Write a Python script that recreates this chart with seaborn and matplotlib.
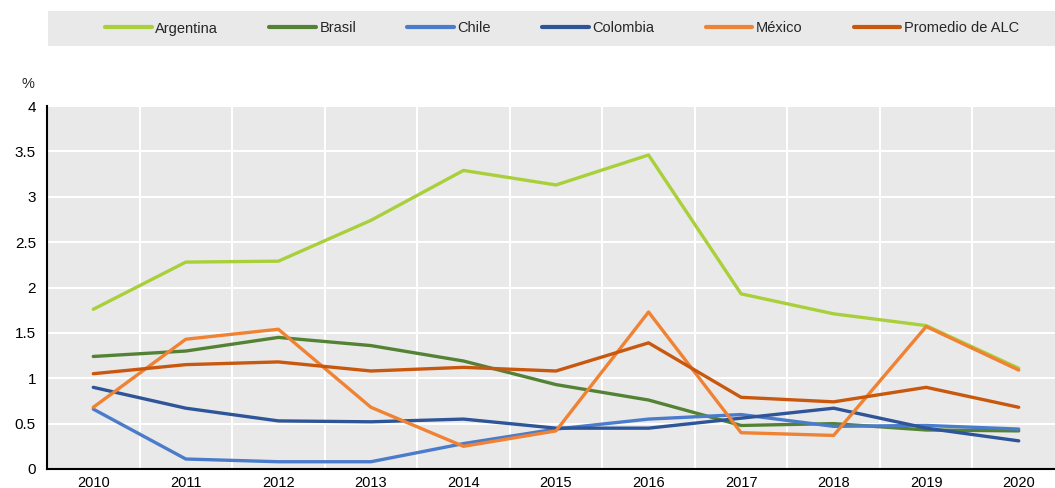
import matplotlib
matplotlib.use("Agg")
import matplotlib.pyplot as plt
from matplotlib.ticker import FixedLocator
import numpy as np
import pandas as pd
import seaborn as sns

years = ["2010", "2011", "2012", "2013", "2014", "2015", "2016", "2017", "2018", "2019", "2020"]
argentina = [1.76, 2.28, 2.29, 2.74, 3.29, 3.13, 3.46, 1.93, 1.71, 1.58, 1.11]
brasil = [1.24, 1.30, 1.45, 1.36, 1.19, 0.93, 0.76, 0.48, 0.50, 0.43, 0.42]
chile = [0.66, 0.11, 0.08, 0.08, 0.28, 0.44, 0.55, 0.60, 0.47, 0.48, 0.44]
colombia = [0.90, 0.67, 0.53, 0.52, 0.55, 0.45, 0.45, 0.56, 0.67, 0.45, 0.31]
mexico = [0.68, 1.43, 1.54, 0.68, 0.25, 0.42, 1.73, 0.40, 0.37, 1.57, 1.09]
promedio = [1.05, 1.15, 1.18, 1.08, 1.12, 1.08, 1.39, 0.79, 0.74, 0.90, 0.68]

series_names = ["Argentina", "Brasil", "Chile", "Colombia", "México", "Promedio de ALC"]
series_values = [argentina, brasil, chile, colombia, mexico, promedio]
colors = ["#A9D03A", "#548235", "#4A7CCB", "#2E5597", "#F08233", "#C9580F"]

y_ticks = [0, 0.5, 1, 1.5, 2, 2.5, 3, 3.5, 4]
y_tick_labels = ["0", "0.5", "1", "1.5", "2", "2.5", "3", "3.5", "4"]

rows = []
for name, vals in zip(series_names, series_values):
    for i, v in enumerate(vals):
        rows.append({"pos": i, "year": years[i], "serie": name, "valor": v})
df = pd.DataFrame(rows)

sns.set_theme(style="white")
plt.rcParams["font.family"] = ["Liberation Sans", "DejaVu Sans"]

fig = plt.figure(figsize=(10.55, 4.88), dpi=100)
W, H = 1055, 488
ax = fig.add_axes([47 / W, 1 - 469 / H, (1065 - 47) / W, (469 - 106) / H])
ax.set_facecolor("#E9E9E9")

sns.lineplot(data=df, x="pos", y="valor", hue="serie", hue_order=series_names,
             palette=colors, linewidth=2.4, ax=ax, legend=False, sort=False)

ax.set_xlim(-0.5, 10.5)
ax.set_ylim(0, 4)
ax.yaxis.set_major_locator(FixedLocator(y_ticks))
ax.set_yticklabels(y_tick_labels)
ax.xaxis.set_major_locator(FixedLocator(np.arange(len(years))))
ax.set_xticklabels(years)
ax.xaxis.set_minor_locator(FixedLocator(np.arange(len(years) + 1) - 0.5))
ax.tick_params(axis="x", which="major", length=0, labelsize=10.5, pad=5, colors="black")
ax.tick_params(axis="x", which="minor", direction="in", length=5, width=1.2, color="black")
ax.tick_params(axis="y", which="major", direction="in", length=5, width=1.2,
               labelsize=11, pad=8, colors="black")
ax.grid(False)
ax.grid(True, axis="y", which="major", color="white", linewidth=1.5)
ax.grid(True, axis="x", which="minor", color="white", linewidth=1.5)
ax.set_axisbelow(True)
ax.set_xlabel("")
ax.set_ylabel("")
for side in ["top", "right"]:
    ax.spines[side].set_visible(False)
for side in ["left", "bottom"]:
    ax.spines[side].set_color("black")
    ax.spines[side].set_linewidth(1.5)

fig.text(28 / W, 1 - 84 / H, "%", fontsize=10.5, ha="center", va="center")

# legend strip across the top
fig.patches.append(plt.Rectangle((48 / W, 1 - 46 / H), (W - 48) / W, 35 / H,
                                 transform=fig.transFigure, facecolor="#E9E9E9",
                                 edgecolor="none", zorder=0))
handles = [plt.Line2D([], [], color=c, linewidth=3) for c in colors]
leg = fig.legend(handles, series_names, loc="center", ncol=6,
                 bbox_to_anchor=(562 / W, 1 - 28.5 / H), frameon=False,
                 fontsize=10.5, handlelength=3.2, handletextpad=0.25,
                 columnspacing=3.5, borderpad=0.2)

fig.savefig("out.png", dpi=100)
